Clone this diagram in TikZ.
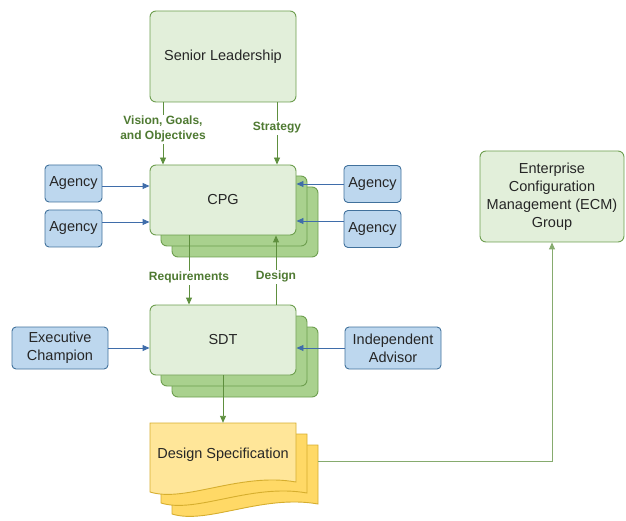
\documentclass[tikz,border=0pt]{standalone}
\usepackage{fontspec}
\setmainfont{Liberation Sans}
\usetikzlibrary{arrows.meta}
\definecolor{grnfill}{HTML}{E2EFDA}
\definecolor{grnback}{HTML}{A9D18E}
\definecolor{grnline}{HTML}{6D9E4E}
\definecolor{grnarrow}{HTML}{5E8F3E}
\definecolor{grntext}{HTML}{4F7A32}
\definecolor{blufill}{HTML}{BDD7EE}
\definecolor{bluline}{HTML}{41719C}
\definecolor{bluarrow}{HTML}{3F6DAA}
\definecolor{ylwfill}{HTML}{FFE699}
\definecolor{ylwback}{HTML}{FFD966}
\definecolor{ylwline}{HTML}{D6AE2E}
\tikzset{
  gbox/.style={draw=grnline, fill=grnfill, rounded corners=6pt, line width=0.9pt,
    minimum width=146pt, minimum height=70pt, inner sep=0pt, align=center,
    text=black!85, font=\fontsize{14.5}{18}\selectfont},
  gback/.style={draw=grnline, fill=grnback, rounded corners=6pt, line width=0.9pt},
  abox/.style={draw=bluline, fill=blufill, rounded corners=4pt, line width=0.9pt,
    inner sep=0pt, align=center, text=black!85, font=\fontsize{14.5}{18}\selectfont},
  garrow/.style={draw=grnarrow, line width=0.9pt, -{Triangle[length=7pt,width=6pt]}},
  barrow/.style={draw=bluarrow, line width=0.9pt, -{Triangle[length=7pt,width=6pt]}},
  lbl/.style={fill=white, inner sep=1.5pt, align=center, text=grntext,
    font=\fontsize{12}{15}\selectfont\bfseries}
}
\begin{document}
\begin{tikzpicture}[x=1pt, y=-1pt]
\useasboundingbox (0,0) rectangle (626,521);
% stacked layers behind CPG and SDT
\foreach \d in {22,11} {
  \draw [gback] (150+\d,165+\d) rectangle (296+\d,235+\d);
  \draw [gback] (150+\d,305+\d) rectangle (296+\d,375+\d);
}
% stacked document shape
\foreach \d/\c in {22/ylwback, 11/ylwback, 0/ylwfill} {
  \draw [draw=ylwline, fill=\c, line width=0.9pt] (150+\d,423+\d) -- (296+\d,423+\d) -- (296+\d,482+\d)
    .. controls (240+\d,472+\d) and (185+\d,503+\d) .. (150+\d,492+\d) -- cycle;
}
\node [gbox, minimum height=91pt] (sl) at (223,56.5) {Senior Leadership};
\node [gbox] (cpg) at (223,200) {CPG};
\node [gbox] (sdt) at (223,340) {SDT};
\node [inner sep=0pt, minimum width=146pt, minimum height=64pt, text=black!85,
  font=\fontsize{14.5}{18}\selectfont] (doc) at (223,455) {Design Specification};
\node [gbox, minimum width=144pt, minimum height=91pt] (ecm) at (552,196.5)
  {Enterprise\\Configuration\\Management (ECM)\\Group};
\node [abox, minimum width=57pt, minimum height=37pt] (ag1) at (73.5,183.5) {Agency};
\node [abox, minimum width=57pt, minimum height=37pt] (ag2) at (73.5,228.5) {Agency};
\node [abox, minimum width=57pt, minimum height=37pt] (ag3) at (372.5,184) {Agency};
\node [abox, minimum width=57pt, minimum height=37pt] (ag4) at (372.5,229) {Agency};
\node [abox, minimum width=96pt, minimum height=42pt] (exec) at (60,348) {Executive\\Champion};
\node [abox, minimum width=96pt, minimum height=42pt] (adv) at (393,348) {Independent\\Advisor};
\coordinate (docR) at (318,461);
% green flows
\draw [garrow] ([xshift=-60pt]sl.south) -- ([xshift=-60pt]cpg.north)
  node [lbl, pos=0.43] {Vision, Goals,\\and Objectives};
\draw [garrow] ([xshift=54pt]sl.south) -- ([xshift=54pt]cpg.north)
  node [lbl, pos=0.41] {Strategy};
\draw [garrow] ([xshift=-34pt]cpg.south) -- ([xshift=-34pt]sdt.north)
  node [lbl, pos=0.61] {Requirements};
\draw [garrow] ([xshift=53pt]sdt.north) -- ([xshift=53pt]cpg.south)
  node [lbl, pos=0.4] {Design};
\draw [garrow] (sdt.south) -- (doc.north);
\draw [garrow, draw=grnarrow!75] (docR) -| (ecm.south);
% blue inputs
\draw [barrow] ([yshift=-2.5pt]ag1.east) -- ([yshift=-2.5pt]ag1.east -| cpg.west);
\draw [barrow] ([yshift=6.5pt]ag2.east) -- ([yshift=6.5pt]ag2.east -| cpg.west);
\draw [barrow] ([yshift=0pt]ag3.west) -- ([yshift=0pt]ag3.west -| cpg.east);
\draw [barrow] ([yshift=8pt]ag4.west) -- ([yshift=8pt]ag4.west -| cpg.east);
\draw [barrow] (exec.east) -- (exec.east -| sdt.west);
\draw [barrow] (adv.west) -- (adv.west -| sdt.east);
\end{tikzpicture}
\end{document}
